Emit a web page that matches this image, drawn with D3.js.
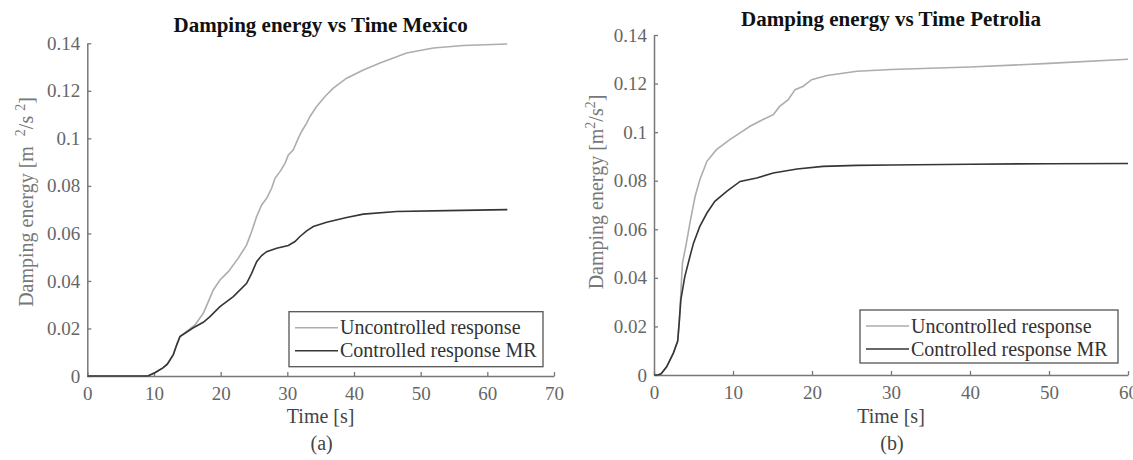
<!DOCTYPE html>
<html>
<head>
<meta charset="utf-8">
<script src="https://cdn.jsdelivr.net/npm/d3@7"></script>
<style>
  body { margin: 0; background: #fff; }
  svg { display: block; }
  text { font-family: "Liberation Serif", "Times New Roman", serif; }
</style>
</head>
<body>
<div id="chart"></div>
<script>
// Mexico record, damping energy [m2/s2] vs time [s]
var mexicoUncT = [0, 5, 9.1, 10.2, 11.4, 12.0, 12.9, 13.4, 13.9, 14.9, 16.15, 17.4, 18.15, 18.9, 19.9, 21.15, 22.65, 23.9, 24.65, 25.4, 26.15, 26.9, 27.65, 28.15, 28.9, 29.65, 30.15, 30.9, 31.65, 32.15, 32.9, 33.4, 34.4, 35.65, 36.9, 38.9, 41.4, 43.9, 47.9, 51.9, 56.4, 63];
var mexicoUncV = [0, 0, 0, 0.0015, 0.0035, 0.005, 0.009, 0.013, 0.0166, 0.0188, 0.0215, 0.0264, 0.0313, 0.0362, 0.0404, 0.0439, 0.0496, 0.0552, 0.0608, 0.0671, 0.072, 0.0748, 0.079, 0.0832, 0.086, 0.0895, 0.093, 0.0952, 0.1001, 0.1029, 0.1064, 0.1092, 0.1134, 0.1176, 0.1211, 0.1253, 0.1288, 0.1317, 0.1359, 0.138, 0.1391, 0.1397];
var mexicoCtrlT = [0, 5, 9.1, 10.2, 11.4, 12.0, 12.9, 13.4, 13.9, 15.9, 17.4, 18.4, 19.9, 21.9, 23.9, 24.65, 25.4, 26.15, 26.9, 28.4, 30.15, 31.15, 31.9, 32.9, 33.9, 35.9, 38.9, 41.4, 46.4, 53.9, 63];
var mexicoCtrlV = [0, 0, 0, 0.0015, 0.0035, 0.005, 0.009, 0.013, 0.0166, 0.0203, 0.0226, 0.025, 0.0292, 0.0334, 0.039, 0.0432, 0.0481, 0.0507, 0.0523, 0.0538, 0.0549, 0.0566, 0.0587, 0.0611, 0.0629, 0.0647, 0.0667, 0.0681, 0.0692, 0.0696, 0.07];

// Petrolia record
var petroliaUncT = [0, 0.5, 0.9, 1.6, 2.45, 3.0, 3.2, 3.4, 3.6, 4.1, 4.55, 5.2, 5.8, 6.7, 7.9, 9.6, 10.9, 12.15, 13.8, 15.1, 15.9, 17.0, 17.85, 18.9, 19.95, 21.9, 25.7, 30, 40, 50, 60];
var petroliaUncV = [0, 0, 0.0005, 0.0034, 0.009, 0.014, 0.022, 0.034, 0.046, 0.0543, 0.0626, 0.0735, 0.0804, 0.088, 0.0928, 0.0969, 0.0997, 0.1024, 0.1052, 0.1072, 0.1106, 0.1134, 0.1175, 0.1189, 0.1216, 0.1233, 0.1251, 0.1258, 0.1268, 0.1283, 0.13];
var petroliaCtrlT = [0, 0.5, 0.9, 1.6, 2.45, 3.0, 3.2, 3.4, 3.9, 4.55, 5.0, 5.8, 6.7, 7.7, 9.2, 10.9, 13.0, 15.1, 18.1, 21.4, 25.7, 30, 40, 50, 60];
var petroliaCtrlV = [0, 0, 0.0005, 0.0034, 0.009, 0.014, 0.022, 0.031, 0.0405, 0.0488, 0.0543, 0.0612, 0.0667, 0.0715, 0.0756, 0.0797, 0.0811, 0.0832, 0.0848, 0.0859, 0.0863, 0.0865, 0.0868, 0.087, 0.0871];

var yTicks = [0, 0.02, 0.04, 0.06, 0.08, 0.1, 0.12, 0.14];
var mexicoXTicks = [0, 10, 20, 30, 40, 50, 60, 70];
var petroliaXTicks = [0, 10, 20, 30, 40, 50, 60];
var legendLabels = ["Uncontrolled response", "Controlled response MR"];
var seriesColors = ["#adadad", "#353535"];

var svg = d3.select("#chart").append("svg")
  .attr("width", 1133)
  .attr("height", 460);

svg.append("rect").attr("width", 1133).attr("height", 460).attr("fill", "#fff");

function zip(ts, vs) {
  return ts.map(function (t, i) { return {t: t, v: vs[i]}; });
}

function drawPanel(p) {
  var x = d3.scaleLinear().domain([0, p.xMax]).range([p.left, p.right]);
  var y = d3.scaleLinear().domain([0, 0.14]).range([p.bottom, p.top]);
  var g = svg.append("g");

  // x axis, ticks pointing inward
  var gx = g.append("g")
    .attr("transform", "translate(0," + p.bottom + ")")
    .call(d3.axisBottom(x).tickValues(p.xTicks).tickSize(-4).tickSizeOuter(0).tickPadding(11));

  var gy = g.append("g")
    .attr("transform", "translate(" + p.left + ",0)")
    .call(d3.axisLeft(y).tickValues(yTicks).tickSize(-4).tickSizeOuter(0).tickPadding(7)
      .tickFormat(function (d) { return String(d); }));

  [gx, gy].forEach(function (a) {
    a.attr("font-family", "Liberation Serif").attr("font-size", 19);
    a.select(".domain").attr("stroke", "#777").attr("stroke-width", 1.5);
    a.selectAll(".tick line").attr("stroke", "#777").attr("stroke-width", 1.3);
    a.selectAll(".tick text")
      .attr("fill", "#666")
      .style("font-size", "19px");
  });

  // lines
  var line = d3.line()
    .x(function (d) { return x(d.t); })
    .y(function (d) { return y(d.v); });

  p.series.forEach(function (s, i) {
    g.append("path")
      .datum(s)
      .attr("fill", "none")
      .attr("stroke", seriesColors[i])
      .attr("stroke-width", 1.6)
      .attr("d", line);
  });

  // title
  g.append("text")
    .attr("x", (p.left + p.right) / 2)
    .attr("y", p.titleY)
    .attr("text-anchor", "middle")
    .style("font-size", "21px")
    .style("font-weight", "bold")
    .attr("fill", "#111")
    .text(p.title);

  // x label and panel letter
  g.append("text")
    .attr("x", (p.left + p.right) / 2)
    .attr("y", 423)
    .attr("text-anchor", "middle")
    .style("font-size", "20px")
    .attr("fill", "#444")
    .text("Time [s]");

  g.append("text")
    .attr("x", (p.left + p.right) / 2 + 1)
    .attr("y", 450)
    .attr("text-anchor", "middle")
    .style("font-size", "20px")
    .attr("fill", "#444")
    .text(p.letter);

  // y label (rotated)
  var yl = g.append("text")
    .attr("transform", "translate(" + p.yLabelX + "," + p.yLabelY + ") rotate(-90)")
    .attr("text-anchor", "middle")
    .style("font-size", "20px")
    .attr("fill", "#777");
  yl.append("tspan").text("Damping energy [m" + p.gap);
  yl.append("tspan").attr("dy", -8).style("font-size", "14px").text("2");
  yl.append("tspan").attr("dy", 8).text("/s" + p.gap2);
  yl.append("tspan").attr("dy", -8).style("font-size", "14px").text("2");
  yl.append("tspan").attr("dy", 8).text("]");

  // legend
  var lg = g.append("g");
  lg.append("rect")
    .attr("x", p.legX).attr("y", p.legY)
    .attr("width", p.legW).attr("height", p.legH)
    .attr("fill", "#fff")
    .attr("stroke", "#555")
    .attr("stroke-width", 1.3);

  legendLabels.forEach(function (lab, i) {
    var ry = p.legY + 16 + i * 23;
    lg.append("line")
      .attr("x1", p.legX + 6).attr("x2", p.legX + 49)
      .attr("y1", ry).attr("y2", ry)
      .attr("stroke", seriesColors[i])
      .attr("stroke-width", 1.6);
    lg.append("text")
      .attr("x", p.legX + 51)
      .attr("y", ry + 6.5)
      .style("font-size", "20px")
      .attr("fill", "#333")
      .text(lab);
  });
}

drawPanel({
  left: 87.3, right: 554, top: 43.3, bottom: 376, xMax: 70, xTicks: mexicoXTicks,
  title: "Damping energy vs Time Mexico", titleY: 32, letter: "(a)",
  yLabelX: 33, yLabelY: 202, gap: "\u00a0\u00a0", gap2: "\u00a0",
  legX: 289, legY: 311.7, legW: 254, legH: 55,
  series: [zip(mexicoUncT, mexicoUncV), zip(mexicoCtrlT, mexicoCtrlV)]
});

drawPanel({
  left: 654, right: 1128, top: 35, bottom: 375, xMax: 60, xTicks: petroliaXTicks,
  title: "Damping energy vs Time Petrolia", titleY: 26, letter: "(b)",
  yLabelX: 603, yLabelY: 192, gap: "", gap2: "",
  legX: 860, legY: 310, legW: 258, legH: 53,
  series: [zip(petroliaUncT, petroliaUncV), zip(petroliaCtrlT, petroliaCtrlV)]
});
</script>
</body>
</html>
